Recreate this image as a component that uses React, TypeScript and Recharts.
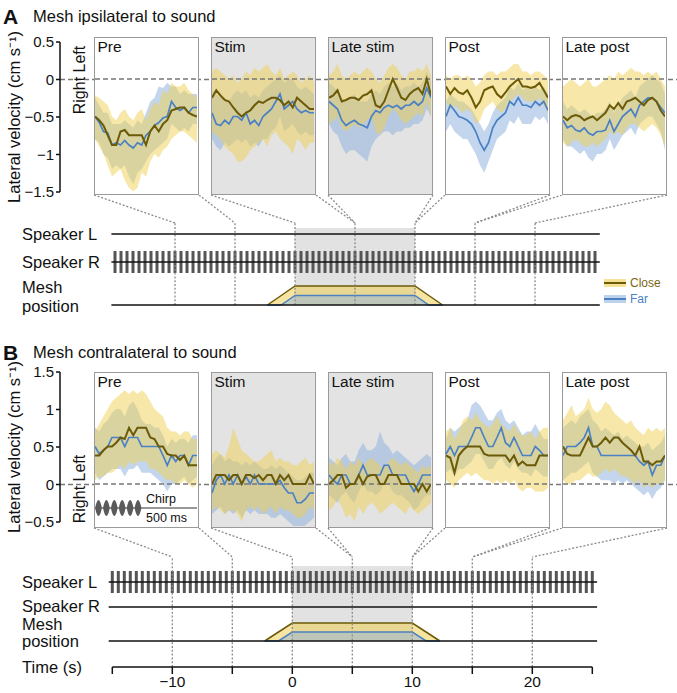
import React from 'react';
import { ComposedChart, Line, Area, XAxis, YAxis, ReferenceLine, ReferenceArea, Scatter } from 'recharts';

const W = 677;
const H = 693;
const FONT = 'Arial, "Liberation Sans", Helvetica, sans-serif';

// ---- data ----
const PANEL_NAMES = ['Pre', 'Stim', 'Late stim', 'Post', 'Late post'];
const PANEL_WINDOWS = [[-10, -5], [0, 5], [5, 10], [10, 15], [15, 20]];
const STIM_PANELS = [false, true, true, false, false];
const WINDOW_EDGES = [-10, -5, 0, 5, 10, 15, 20];
const TIME_TICKS = [-15, -10, -5, 0, 5, 10, 15, 20, 25];
const TIME_LABELS = [-10, 0, 10, 20];
const A_TICKS = [0.5, 0, -0.5, -1, -1.5];
const B_TICKS = [1.5, 1, 0.5, 0, -0.5];

// panel A: mesh ipsilateral (Pre, Stim, Late stim, Post, Late post)
const A_CLOSE_MEAN = [
  [-0.5, -0.55, -0.62, -0.75, -0.88, -0.88, -0.7, -0.68, -0.75, -0.75, -0.75, -0.75, -0.88, -0.7, -0.62, -0.7, -0.6, -0.55, -0.42, -0.4, -0.38, -0.38, -0.45, -0.48, -0.5],
  [-0.25, -0.15, -0.22, -0.28, -0.3, -0.38, -0.45, -0.5, -0.45, -0.42, -0.35, -0.3, -0.32, -0.28, -0.25, -0.25, -0.28, -0.35, -0.3, -0.38, -0.25, -0.3, -0.35, -0.4, -0.4],
  [-0.25, -0.22, -0.15, -0.3, -0.28, -0.25, -0.25, -0.28, -0.22, -0.2, -0.15, -0.35, -0.38, -0.3, -0.15, 0, -0.12, -0.25, -0.28, -0.2, -0.15, -0.12, -0.2, 0, -0.22],
  [-0.1, -0.2, -0.12, -0.18, -0.2, -0.15, -0.25, -0.38, -0.3, -0.15, -0.12, -0.1, -0.2, -0.25, -0.18, -0.1, -0.05, 0, -0.1, -0.1, -0.12, -0.1, -0.05, -0.15, -0.25],
  [-0.5, -0.55, -0.5, -0.48, -0.5, -0.55, -0.52, -0.5, -0.55, -0.5, -0.45, -0.35, -0.4, -0.32, -0.4, -0.3, -0.28, -0.25, -0.3, -0.35, -0.28, -0.25, -0.3, -0.42, -0.5],
];
const A_CLOSE_HI = [
  [-0.22, -0.25, -0.3, -0.35, -0.5, -0.55, -0.45, -0.4, -0.5, -0.55, -0.45, -0.4, -0.55, -0.4, -0.3, -0.35, -0.15, -0.2, -0.05, -0.1, -0.1, -0.05, -0.15, -0.2, -0.25],
  [0.1, 0.15, 0.1, 0.05, 0, 0.05, -0.05, 0, 0.1, 0.05, 0.15, 0.1, 0.15, 0.2, 0.1, 0.05, 0.15, 0, 0.05, 0.1, 0.05, -0.05, 0, 0.05, -0.05],
  [0.05, 0.1, 0.2, 0.05, 0, 0.05, 0.1, 0.05, 0.1, 0.15, 0.1, 0, -0.05, 0.05, 0.15, 0.2, 0.15, 0.05, 0, 0.1, 0.1, 0.15, 0.1, 0.2, 0.05],
  [0.05, 0, 0.05, 0.05, 0, 0.05, 0, -0.1, -0.05, 0.05, 0.1, 0.1, 0.05, 0.1, 0.1, 0.15, 0.2, 0.2, 0.1, 0.1, 0.05, 0.1, 0.1, 0.05, 0],
  [-0.1, -0.05, 0, -0.05, -0.1, -0.05, 0, -0.1, -0.1, -0.05, 0, 0.05, 0, 0.1, 0.05, 0.1, 0.15, 0.1, 0.1, 0.05, 0.1, 0.05, 0.1, 0, -0.1],
];
const A_CLOSE_LO = [
  [-0.8, -0.9, -1.0, -1.15, -1.3, -1.25, -1.2, -1.35, -1.45, -1.5, -1.45, -1.25, -1.3, -1.1, -1.0, -1.05, -0.95, -0.9, -0.8, -0.75, -0.7, -0.7, -0.75, -0.8, -0.85],
  [-0.7, -0.75, -0.8, -0.9, -0.95, -1.0, -1.1, -1.1, -1.05, -0.95, -0.9, -0.85, -0.8, -0.9, -0.75, -0.7, -0.8, -0.85, -0.9, -1.0, -0.8, -0.85, -0.95, -0.85, -0.85],
  [-0.6, -0.55, -0.5, -0.65, -0.7, -0.65, -0.6, -0.65, -0.6, -0.55, -0.5, -0.7, -0.75, -0.65, -0.5, -0.4, -0.45, -0.55, -0.6, -0.55, -0.5, -0.45, -0.5, -0.3, -0.5],
  [-0.3, -0.4, -0.35, -0.4, -0.45, -0.4, -0.45, -0.6, -0.55, -0.4, -0.35, -0.3, -0.4, -0.45, -0.4, -0.3, -0.25, -0.2, -0.25, -0.3, -0.3, -0.3, -0.25, -0.35, -0.45],
  [-0.85, -0.9, -0.85, -0.8, -0.85, -0.9, -0.9, -0.85, -0.9, -0.85, -0.8, -0.7, -0.75, -0.7, -0.75, -0.65, -0.6, -0.6, -0.65, -0.7, -0.65, -0.6, -0.65, -0.75, -0.9],
];
const A_FAR_MEAN = [
  [-0.5, -0.58, -0.7, -0.72, -0.88, -0.85, -0.88, -0.82, -0.88, -0.92, -0.85, -0.88, -0.75, -0.7, -0.62, -0.58, -0.52, -0.5, -0.3, -0.38, -0.42, -0.38, -0.45, -0.38, -0.38],
  [-0.45, -0.6, -0.62, -0.55, -0.6, -0.5, -0.5, -0.55, -0.45, -0.6, -0.55, -0.62, -0.5, -0.45, -0.4, -0.3, -0.2, -0.4, -0.35, -0.3, -0.4, -0.45, -0.42, -0.45, -0.45],
  [-0.3, -0.35, -0.4, -0.55, -0.62, -0.58, -0.55, -0.6, -0.62, -0.65, -0.5, -0.42, -0.45, -0.38, -0.35, -0.38, -0.35, -0.4, -0.35, -0.35, -0.3, -0.35, -0.3, -0.12, -0.25],
  [-0.5, -0.35, -0.42, -0.5, -0.52, -0.55, -0.6, -0.7, -0.85, -0.95, -0.85, -0.65, -0.55, -0.5, -0.45, -0.3, -0.35, -0.25, -0.35, -0.35, -0.38, -0.3, -0.35, -0.3, -0.42],
  [-0.55, -0.65, -0.62, -0.68, -0.7, -0.65, -0.72, -0.75, -0.7, -0.7, -0.68, -0.55, -0.7, -0.6, -0.5, -0.45, -0.4, -0.5, -0.35, -0.3, -0.25, -0.25, -0.3, -0.38, -0.45],
];
const A_FAR_HI = [
  [-0.25, -0.35, -0.45, -0.45, -0.6, -0.6, -0.6, -0.55, -0.6, -0.65, -0.55, -0.6, -0.45, -0.3, -0.25, -0.1, -0.12, -0.05, -0.1, -0.1, -0.2, -0.15, -0.2, -0.2, -0.2],
  [-0.15, -0.2, -0.25, -0.25, -0.3, -0.2, -0.15, -0.2, -0.15, -0.25, -0.2, -0.25, -0.15, -0.1, -0.05, 0, 0.05, -0.05, 0, 0, -0.1, -0.15, -0.1, -0.15, -0.2],
  [-0.05, -0.1, -0.15, -0.25, -0.3, -0.25, -0.2, -0.3, -0.3, -0.3, -0.2, -0.15, -0.2, -0.1, -0.05, -0.1, -0.05, -0.15, -0.1, -0.1, -0.05, -0.1, -0.05, 0.1, -0.05],
  [-0.3, -0.2, -0.25, -0.3, -0.3, -0.35, -0.4, -0.5, -0.6, -0.7, -0.6, -0.45, -0.35, -0.3, -0.25, -0.1, -0.15, -0.05, -0.15, -0.1, -0.15, -0.1, -0.15, -0.1, -0.2],
  [-0.3, -0.4, -0.35, -0.4, -0.45, -0.4, -0.45, -0.5, -0.45, -0.45, -0.4, -0.3, -0.45, -0.35, -0.25, -0.2, -0.15, -0.25, -0.1, -0.05, 0, 0.05, 0, -0.05, -0.2],
];
const A_FAR_LO = [
  [-0.8, -0.85, -1.0, -1.05, -1.2, -1.15, -1.2, -1.15, -1.3, -1.4, -1.25, -1.2, -1.1, -1.0, -0.95, -0.9, -0.85, -0.8, -0.6, -0.65, -0.7, -0.65, -0.7, -0.6, -0.6],
  [-0.8, -0.9, -0.95, -0.85, -0.9, -0.85, -0.8, -0.85, -0.8, -0.9, -0.85, -0.9, -0.8, -0.8, -0.7, -0.65, -0.5, -0.7, -0.65, -0.6, -0.7, -0.75, -0.7, -0.75, -0.75],
  [-0.6, -0.7, -0.75, -0.9, -1.0, -0.95, -0.95, -1.0, -1.05, -1.1, -0.9, -0.8, -0.75, -0.7, -0.7, -0.75, -0.7, -0.7, -0.65, -0.65, -0.6, -0.6, -0.55, -0.4, -0.5],
  [-0.7, -0.6, -0.7, -0.75, -0.8, -0.8, -0.9, -1.0, -1.15, -1.25, -1.1, -0.95, -0.8, -0.75, -0.7, -0.55, -0.6, -0.5, -0.6, -0.6, -0.6, -0.5, -0.55, -0.5, -0.6],
  [-0.8, -0.9, -0.9, -0.95, -1.0, -0.95, -1.05, -1.1, -1.0, -1.0, -0.95, -0.8, -0.95, -0.85, -0.75, -0.7, -0.65, -0.75, -0.6, -0.55, -0.5, -0.5, -0.6, -0.7, -0.95],
];

// panel B: mesh contralateral
const B_CLOSE_MEAN = [
  [0.38, 0.38, 0.45, 0.5, 0.5, 0.55, 0.62, 0.6, 0.75, 0.65, 0.75, 0.75, 0.75, 0.62, 0.6, 0.5, 0.5, 0.4, 0.38, 0.38, 0.32, 0.38, 0.25, 0.25, 0.25],
  [0, 0.12, 0.12, 0.12, 0.05, 0.12, 0.12, 0, 0.12, 0.12, 0.08, 0.12, 0.05, 0.12, 0.12, 0, 0.12, 0.05, 0.12, 0, 0, 0, 0, 0.12, 0],
  [0, 0.05, 0.12, 0.12, -0.05, 0, 0, 0.12, 0, 0.1, 0.12, 0.12, 0, 0, 0.12, 0.12, 0.12, 0, 0, 0, 0, -0.1, 0, -0.1, 0],
  [0.38, 0.35, 0.15, 0.38, 0.45, 0.5, 0.5, 0.5, 0.5, 0.4, 0.38, 0.38, 0.38, 0.38, 0.38, 0.3, 0.38, 0.25, 0.3, 0.25, 0.25, 0.25, 0.38, 0.38, 0.38],
  [0.5, 0.4, 0.38, 0.38, 0.38, 0.5, 0.62, 0.5, 0.5, 0.55, 0.62, 0.55, 0.62, 0.62, 0.55, 0.5, 0.45, 0.38, 0.5, 0.3, 0.3, 0.25, 0.3, 0.3, 0.38],
];
const B_CLOSE_HI = [
  [0.7, 0.8, 0.9, 1.0, 1.1, 1.15, 1.2, 1.25, 1.2, 1.25, 1.2, 1.25, 1.2, 1.1, 1.0, 0.95, 0.9, 0.75, 0.7, 0.7, 0.65, 0.7, 0.7, 0.6, 0.6],
  [0.4, 0.45, 0.4, 0.35, 0.5, 0.75, 0.6, 0.45, 0.4, 0.35, 0.3, 0.3, 0.35, 0.4, 0.45, 0.3, 0.35, 0.3, 0.3, 0.25, 0.25, 0.3, 0.35, 0.25, 0.3],
  [0.3, 0.25, 0.35, 0.3, 0.2, 0.3, 0.25, 0.35, 0.25, 0.3, 0.35, 0.3, 0.25, 0.2, 0.3, 0.35, 0.3, 0.25, 0.3, 0.25, 0.2, 0.15, 0.25, 0.2, 0.25],
  [0.7, 0.75, 0.6, 0.7, 0.85, 0.9, 0.85, 0.95, 0.85, 0.8, 0.75, 0.8, 0.9, 0.8, 0.75, 0.7, 0.8, 0.7, 0.65, 0.65, 0.7, 0.6, 0.7, 0.75, 0.75],
  [0.85, 0.95, 1.05, 0.9, 0.95, 1.0, 1.15, 1.0, 0.95, 1.0, 1.1, 1.05, 0.95, 0.9, 0.85, 0.8, 0.85, 0.75, 0.7, 0.65, 0.75, 0.7, 0.75, 0.7, 0.75],
];
const B_CLOSE_LO = [
  [0.05, 0.1, 0.1, 0.15, 0.15, 0.2, 0.25, 0.2, 0.3, 0.25, 0.3, 0.3, 0.3, 0.2, 0.2, 0.15, 0.1, 0.05, 0.05, 0, 0, 0.05, 0, -0.05, 0],
  [-0.35, -0.3, -0.35, -0.4, -0.35, -0.35, -0.4, -0.5, -0.35, -0.3, -0.35, -0.3, -0.4, -0.35, -0.3, -0.4, -0.3, -0.35, -0.35, -0.4, -0.45, -0.45, -0.4, -0.3, -0.35],
  [-0.35, -0.3, -0.2, -0.3, -0.45, -0.4, -0.5, -0.3, -0.4, -0.3, -0.25, -0.3, -0.4, -0.35, -0.3, -0.25, -0.3, -0.35, -0.4, -0.3, -0.35, -0.4, -0.35, -0.3, -0.25],
  [0.05, 0, -0.05, 0.05, 0.1, 0.15, 0.1, 0.15, 0.1, 0.05, 0.05, 0, 0.05, 0, 0.05, 0, 0.05, -0.05, -0.1, -0.05, -0.05, -0.1, -0.1, -0.1, -0.05],
  [0.05, 0, 0, 0.05, 0.05, 0.1, 0.15, 0.1, 0.1, 0.15, 0.2, 0.15, 0.2, 0.15, 0.1, 0.1, 0.05, 0, 0.05, -0.05, 0, -0.05, 0, 0, 0.05],
];
const B_FAR_MEAN = [
  [0.5, 0.4, 0.45, 0.5, 0.62, 0.62, 0.62, 0.5, 0.62, 0.62, 0.62, 0.5, 0.5, 0.5, 0.5, 0.5, 0.38, 0.25, 0.38, 0.3, 0.38, 0.38, 0.25, 0.38, 0.38],
  [-0.12, 0.05, 0.12, 0, 0.12, 0, 0.12, 0, 0.1, 0, 0.12, 0, 0, 0, 0, 0, 0.05, -0.05, -0.12, -0.12, -0.25, -0.25, -0.2, -0.12, -0.12],
  [0.12, 0.05, 0, 0.12, 0.12, 0, 0, 0.12, 0.25, 0.12, 0.12, 0.12, 0.12, 0.25, 0.25, 0.12, 0.12, 0.12, 0.12, 0, -0.1, 0, 0.12, 0.12, 0.12],
  [0.4, 0.5, 0.38, 0.5, 0.5, 0.5, 0.62, 0.75, 0.75, 0.62, 0.5, 0.5, 0.62, 0.75, 0.55, 0.5, 0.62, 0.5, 0.38, 0.38, 0.38, 0.5, 0.45, 0.38, 0.38],
  [0.38, 0.5, 0.5, 0.5, 0.55, 0.62, 0.75, 0.5, 0.5, 0.38, 0.38, 0.38, 0.38, 0.38, 0.38, 0.38, 0.38, 0.38, 0.3, 0.25, 0.3, 0.12, 0.25, 0.25, 0.38],
];
const B_FAR_HI = [
  [0.75, 0.7, 0.8, 0.85, 0.95, 1.0, 1.0, 0.9, 1.05, 1.1, 1.0, 0.85, 0.8, 0.8, 0.75, 0.75, 0.65, 0.5, 0.6, 0.55, 0.6, 0.6, 0.55, 0.65, 0.65],
  [0.25, 0.35, 0.4, 0.3, 0.35, 0.3, 0.3, 0.25, 0.3, 0.25, 0.3, 0.25, 0.2, 0.2, 0.25, 0.2, 0.25, 0.2, 0.15, 0.1, 0.05, 0.05, 0.1, 0.15, 0.15],
  [0.35, 0.3, 0.25, 0.35, 0.4, 0.3, 0.3, 0.45, 0.55, 0.45, 0.45, 0.5, 0.7, 0.55, 0.5, 0.4, 0.45, 0.4, 0.35, 0.3, 0.25, 0.3, 0.35, 0.4, 0.35],
  [0.6, 0.75, 0.7, 0.75, 0.8, 0.85, 1.05, 1.1, 1.05, 0.95, 0.85, 0.85, 0.95, 1.0, 0.85, 0.8, 0.85, 0.75, 0.65, 0.7, 0.7, 0.8, 0.7, 0.6, 0.6],
  [0.75, 0.8, 0.85, 0.8, 0.9, 0.95, 1.0, 0.85, 0.8, 0.7, 0.75, 0.7, 0.65, 0.7, 0.6, 0.65, 0.6, 0.55, 0.5, 0.5, 0.55, 0.45, 0.5, 0.55, 0.65],
];
const B_FAR_LO = [
  [0.15, 0.05, 0.1, 0.15, 0.2, 0.2, 0.2, 0.1, 0.2, 0.2, 0.25, 0.15, 0.15, 0.15, 0.1, 0.05, 0, -0.1, 0, 0, 0.05, 0.1, 0, 0.05, 0.1],
  [-0.4, -0.35, -0.3, -0.4, -0.35, -0.4, -0.35, -0.45, -0.35, -0.4, -0.35, -0.4, -0.4, -0.4, -0.45, -0.45, -0.4, -0.45, -0.5, -0.55, -0.6, -0.6, -0.55, -0.5, -0.45],
  [-0.15, -0.2, -0.25, -0.15, -0.1, -0.2, -0.25, -0.1, 0, -0.1, -0.1, -0.15, -0.1, 0, 0, -0.1, -0.15, -0.15, -0.2, -0.25, -0.35, -0.3, -0.2, -0.15, -0.15],
  [0.15, 0.2, 0.1, 0.2, 0.2, 0.25, 0.3, 0.4, 0.4, 0.3, 0.2, 0.2, 0.3, 0.35, 0.25, 0.2, 0.3, 0.2, 0.15, 0.15, 0.1, 0.2, 0.15, 0.1, 0.1],
  [0.05, 0.1, 0.15, 0.15, 0.2, 0.25, 0.3, 0.15, 0.1, 0.05, 0.05, 0.05, 0, 0.05, 0, 0.05, 0, -0.05, -0.1, -0.15, -0.1, -0.2, -0.1, -0.05, 0.05],
];

// stimulus schematic
const CHIRP_TIMES = [
  -15, -14.5, -14, -13.5, -13, -12.5, -12, -11.5, -11, -10.5, -10, -9.5, -9, -8.5, -8, -7.5, -7, -6.5, -6, -5.5,
  -5, -4.5, -4, -3.5, -3, -2.5, -2, -1.5, -1, -0.5, 0, 0.5, 1, 1.5, 2, 2.5, 3, 3.5, 4, 4.5,
  5, 5.5, 6, 6.5, 7, 7.5, 8, 8.5, 9, 9.5, 10, 10.5, 11, 11.5, 12, 12.5, 13, 13.5, 14, 14.5,
  15, 15.5, 16, 16.5, 17, 17.5, 18, 18.5, 19, 19.5, 20, 20.5, 21, 21.5, 22, 22.5, 23, 23.5, 24, 24.5, 25,
];
const MESH_T = [-2.3, -1.15, 0, 10, 11.15, 12.3];
const MESH_CLOSE = [0, 0.5, 1, 1, 0.5, 0];
const MESH_FAR = [0, 0, 0.5, 0.5, 0, 0];
const SPEAKER_SPAN = [-15.3, 25.4];
const STIM_SPAN = [0, 10];

// ---- style ----
const CLOSE_LINE = '#6b5a08';
const FAR_LINE = '#4a80c4';
const CLOSE_FILL = '#efcf52';
const FAR_FILL = '#92b4de';
const BOX_GRAY = '#e3e3e3';
const BOX_BORDER = '#9a9a9a';
const ZERO = '#777';
const DOT = '#8a8a8a';
const INK = '#111';
const BORDER = 1.5;
const PANEL_LEFTS = [94, 211, 328, 445, 562];
const PANEL_W = 105;

const ROW_A = {
  letter: 'A', title: 'Mesh ipsilateral to sound', headY: 16,
  axisTop: 42, axisBottom: 192, yMin: -1.5, yMax: 0.5, ticks: A_TICKS,
  boxTop: 37, boxBottom: 195, rlY: 80,
  t0: 295, pxPerSec: 12, meshBase: 305, meshUnit: 19, schemBottom: 312,
  speakerLY: 234, speakerRY: 262, pulseY: 262,
  labelLY: 234, labelRY: 262, meshLabelY: 287, posLabelY: 306,
  grayTop: 228, vertTop: 223, vertBottom: 305,
  closeMean: A_CLOSE_MEAN, closeLo: A_CLOSE_LO, closeHi: A_CLOSE_HI,
  farMean: A_FAR_MEAN, farLo: A_FAR_LO, farHi: A_FAR_HI,
};
const ROW_B = {
  letter: 'B', title: 'Mesh contralateral to sound', headY: 352,
  axisTop: 372, axisBottom: 522, yMin: -0.5, yMax: 1.5, ticks: B_TICKS,
  boxTop: 372, boxBottom: 528, rlY: 489,
  t0: 292.3, pxPerSec: 12, meshBase: 641, meshUnit: 18, schemBottom: 670,
  speakerLY: 582, speakerRY: 607, pulseY: 582,
  labelLY: 582, labelRY: 606, meshLabelY: 624, posLabelY: 641,
  grayTop: 566, vertTop: 557, vertBottom: 667,
  closeMean: B_CLOSE_MEAN, closeLo: B_CLOSE_LO, closeHi: B_CLOSE_HI,
  farMean: B_FAR_MEAN, farLo: B_FAR_LO, farHi: B_FAR_HI,
};

const fmt = (v: number) => (v < 0 ? '\u2212' + Math.abs(v) : String(v));
const valAt = (row: any, px: number) =>
  row.yMax - ((px - row.axisTop) * (row.yMax - row.yMin)) / (row.axisBottom - row.axisTop);
const timeAt = (row: any, px: number) => (px - row.t0) / row.pxPerSec;
const levelAt = (row: any, px: number) => (row.meshBase - px) / row.meshUnit;

const Txt = ({ x, y, size = 16, children, style }: any) => (
  <div style={{ position: 'absolute', left: x, top: y, transform: 'translateY(-50%)', fontSize: size, lineHeight: 1, whiteSpace: 'nowrap', color: INK, fontFamily: FONT, ...style }}>
    {children}
  </div>
);

const AxisChart = ({ row }: any) => {
  const h = row.axisBottom + 30;
  return (
    <div style={{ position: 'absolute', left: 0, top: 0 }}>
      <ComposedChart width={W} height={h} data={[{ k: 0 }, { k: 1 }]} margin={{ top: row.axisTop, right: 0, bottom: h - row.axisBottom, left: 0 }}>
        <XAxis dataKey="k" type="number" domain={[0, 1]} hide />
        <YAxis
          type="number" domain={[row.yMin, row.yMax]} ticks={row.ticks} interval={0} width={60} allowDataOverflow
          tickSize={4} tickMargin={2} tickFormatter={fmt}
          tick={{ fontSize: 15, fill: INK, fontFamily: FONT }}
          axisLine={{ stroke: INK, strokeWidth: 1.5 }} tickLine={{ stroke: INK, strokeWidth: 1.5 }}
          label={{ value: 'Lateral velocity (cm s\u207B\u00B9)', angle: -90, position: 'insideLeft', offset: 14, style: { textAnchor: 'middle', fontSize: 16.5, fill: INK, fontFamily: FONT } }}
        />
        <ReferenceLine y={0} stroke={ZERO} strokeWidth={1.5} strokeDasharray="5 3" />
      </ComposedChart>
    </div>
  );
};

const Panel = ({ row, i, chirp }: any) => {
  const h = row.boxBottom - row.boxTop;
  const dom = [valAt(row, row.boxBottom - BORDER), valAt(row, row.boxTop + BORDER)];
  const data = row.closeMean[i].map((m: number, k: number) => ({
    k,
    close: m,
    closeBand: [row.closeLo[i][k], row.closeHi[i][k]],
    far: row.farMean[i][k],
    farBand: [row.farLo[i][k], row.farHi[i][k]],
  }));
  return (
    <div style={{ position: 'absolute', left: PANEL_LEFTS[i], top: row.boxTop, width: PANEL_W, height: h, boxSizing: 'border-box', border: `${BORDER}px solid ${BOX_BORDER}`, background: STIM_PANELS[i] ? BOX_GRAY : '#fff' }}>
      <ComposedChart width={PANEL_W - 2 * BORDER} height={h - 2 * BORDER} data={data} margin={{ top: 0, right: 0, bottom: 0, left: 0 }}>
        <XAxis dataKey="k" type="number" domain={[0, data.length - 1]} hide />
        <YAxis type="number" domain={dom} hide allowDataOverflow />
        <Area dataKey="farBand" type="linear" stroke="none" fill={FAR_FILL} fillOpacity={0.55} isAnimationActive={false} />
        <Area dataKey="closeBand" type="linear" stroke="none" fill={CLOSE_FILL} fillOpacity={0.5} isAnimationActive={false} />
        <ReferenceLine y={0} stroke={ZERO} strokeWidth={1.5} strokeDasharray="5 3" />
        <Line dataKey="far" type="linear" stroke={FAR_LINE} strokeWidth={1.7} dot={false} isAnimationActive={false} />
        <Line dataKey="close" type="linear" stroke={CLOSE_LINE} strokeWidth={2} dot={false} isAnimationActive={false} />
      </ComposedChart>
      <Txt x={2.5} y={8.5} size={15.5}>{PANEL_NAMES[i]}</Txt>
      {chirp && (
        <>
          <svg width={PANEL_W} height={30} style={{ position: 'absolute', left: -BORDER, top: 120 }}>
            <line x1={1} x2={103} y1={15} y2={15} stroke="#333" strokeWidth={1} />
            {[0, 1, 2, 3, 4, 5].map((n) => {
              const cx = 4.5 + n * 7.9;
              return <path key={n} d={`M${cx - 3.4} 15 Q${cx} -1 ${cx + 3.4} 15 Q${cx} 31 ${cx - 3.4} 15 Z`} fill="#5a5a5a" />;
            })}
          </svg>
          <Txt x={51} y={126} size={12.5}>Chirp</Txt>
          <Txt x={51} y={145} size={12.5}>500 ms</Txt>
        </>
      )}
    </div>
  );
};

const SchemLayer = ({ row, children }: any) => {
  const top = row.boxBottom;
  const bottom = row.schemBottom;
  const xDom = [timeAt(row, 0), timeAt(row, W)];
  const yDom = [levelAt(row, bottom), levelAt(row, top)];
  return (
    <div style={{ position: 'absolute', left: 0, top }}>
      <ComposedChart width={W} height={bottom - top} margin={{ top: 0, right: 0, bottom: 0, left: 0 }}>
        <XAxis dataKey="t" type="number" domain={xDom} hide allowDataOverflow />
        <YAxis type="number" domain={yDom} hide allowDataOverflow />
        {children}
      </ComposedChart>
    </div>
  );
};

const Schematic = ({ row }: any) => {
  const pulses = CHIRP_TIMES.map((t) => ({ t, y: levelAt(row, row.pulseY) }));
  const mesh = MESH_T.map((t, k) => ({ t, close: MESH_CLOSE[k], far: MESH_FAR[k] }));
  const top = levelAt(row, row.boxBottom);
  const vTop = levelAt(row, row.vertTop);
  const vBot = levelAt(row, row.vertBottom);
  const seg = (x1: number, y1: number, x2: number, y2: number) => [{ x: x1, y: y1 }, { x: x2, y: y2 }];
  const hline = (px: number) => seg(SPEAKER_SPAN[0], levelAt(row, px), SPEAKER_SPAN[1], levelAt(row, px));
  return (
    <>
      <SchemLayer row={row}>
        <ReferenceArea x1={STIM_SPAN[0]} x2={STIM_SPAN[1]} y1={0} y2={levelAt(row, row.grayTop)} fill="#e2e2e2" fillOpacity={1} stroke="none" ifOverflow="visible" />
      </SchemLayer>
      <SchemLayer row={row}>
        <Scatter data={pulses} dataKey="y" isAnimationActive={false}
          shape={(p: any) => <rect x={p.cx - 1.5} y={p.cy - 11} width={3} height={22} fill="#555" />} />
      </SchemLayer>
      <SchemLayer row={row}>
        <Area data={mesh} dataKey="close" type="linear" baseValue={0} stroke={CLOSE_LINE} strokeWidth={1.5} fill={CLOSE_FILL} fillOpacity={0.55} isAnimationActive={false} />
        <Area data={mesh} dataKey="far" type="linear" baseValue={0} stroke={FAR_LINE} strokeWidth={1.5} fill={FAR_FILL} fillOpacity={0.5} isAnimationActive={false} />
      </SchemLayer>
      <SchemLayer row={row}>
        {WINDOW_EDGES.map((t) => (
          <ReferenceLine key={'v' + t} segment={seg(t, vBot, t, vTop)} stroke={DOT} strokeWidth={1.3} strokeDasharray="2 1.8" ifOverflow="visible" />
        ))}
        {PANEL_WINDOWS.map(([a, b], i) => (
          <React.Fragment key={'c' + i}>
            <ReferenceLine segment={seg(timeAt(row, PANEL_LEFTS[i]), top, a, vTop)} stroke={DOT} strokeWidth={1.3} strokeDasharray="2 1.8" ifOverflow="visible" />
            <ReferenceLine segment={seg(timeAt(row, PANEL_LEFTS[i] + PANEL_W), top, b, vTop)} stroke={DOT} strokeWidth={1.3} strokeDasharray="2 1.8" ifOverflow="visible" />
          </React.Fragment>
        ))}
        <ReferenceLine segment={hline(row.speakerLY)} stroke={INK} strokeWidth={1.6} ifOverflow="visible" />
        <ReferenceLine segment={hline(row.speakerRY)} stroke={INK} strokeWidth={1.6} ifOverflow="visible" />
        <ReferenceLine segment={hline(row.meshBase)} stroke={INK} strokeWidth={1.6} ifOverflow="visible" />
      </SchemLayer>
      <Txt x={22} y={row.labelLY} size={16.5}>Speaker L</Txt>
      <Txt x={22} y={row.labelRY} size={16.5}>Speaker R</Txt>
      <Txt x={22} y={row.meshLabelY} size={16.5}>Mesh</Txt>
      <Txt x={22} y={row.posLabelY} size={16.5}>position</Txt>
    </>
  );
};

const TimeAxis = () => {
  const row = ROW_B;
  const top = 640;
  const h = 53;
  const axisY = 667;
  const left = row.t0 + TIME_TICKS[0] * row.pxPerSec;
  const right = row.t0 + TIME_TICKS[TIME_TICKS.length - 1] * row.pxPerSec;
  return (
    <div style={{ position: 'absolute', left: 0, top }}>
      <ComposedChart width={W} height={h} data={[{ t: TIME_TICKS[0] }, { t: TIME_TICKS[TIME_TICKS.length - 1] }]}
        margin={{ top: 0, right: W - right, bottom: 0, left }}>
        <XAxis dataKey="t" type="number" domain={[TIME_TICKS[0], TIME_TICKS[TIME_TICKS.length - 1]]} ticks={TIME_TICKS} interval={0}
          height={h - (axisY - top)} tickSize={7} tickMargin={2}
          tickFormatter={(t: number) => (TIME_LABELS.includes(t) ? fmt(t) : '')}
          tick={{ fontSize: 15.5, fill: INK, fontFamily: FONT }}
          axisLine={{ stroke: INK, strokeWidth: 1.5 }} tickLine={{ stroke: INK, strokeWidth: 1.5 }} />
        <YAxis hide />
      </ComposedChart>
    </div>
  );
};

const Row = ({ row }: any) => (
  <>
    <Txt x={3} y={row.headY} size={21} style={{ fontWeight: 'bold' }}>{row.letter}</Txt>
    <Txt x={33} y={row.headY} size={16.5}>{row.title}</Txt>
    <AxisChart row={row} />
    <Schematic row={row} />
    {PANEL_NAMES.map((_, i) => (
      <Panel key={i} row={row} i={i} chirp={row.letter === 'B' && i === 0} />
    ))}
    <div style={{ position: 'absolute', left: 80, top: row.rlY, transform: 'translate(-50%, -50%) rotate(-90deg)', fontSize: 16, lineHeight: 1, whiteSpace: 'nowrap', fontFamily: FONT, color: INK }}>
      Right Left
    </div>
  </>
);

const Legend = () => (
  <>
    <svg width={30} height={34} style={{ position: 'absolute', left: 600, top: 275 }}>
      <rect x={4} y={4} width={22} height={8} fill={CLOSE_FILL} fillOpacity={0.6} />
      <line x1={4} x2={26} y1={8} y2={8} stroke={CLOSE_LINE} strokeWidth={2} />
      <rect x={4} y={20} width={22} height={8} fill={FAR_FILL} fillOpacity={0.6} />
      <line x1={4} x2={26} y1={24} y2={24} stroke={FAR_LINE} strokeWidth={2} />
    </svg>
    <Txt x={630} y={283} size={12} style={{ color: '#7a6712' }}>Close</Txt>
    <Txt x={630} y={299} size={12} style={{ color: FAR_LINE }}>Far</Txt>
  </>
);

export default function App() {
  return (
    <div style={{ position: 'absolute', left: 0, top: 0, width: W, height: H, background: '#fff', overflow: 'hidden', fontFamily: FONT }}>
      <Row row={ROW_A} />
      <Row row={ROW_B} />
      <Legend />
      <TimeAxis />
      <Txt x={22} y={667} size={16.5}>Time (s)</Txt>
    </div>
  );
}
